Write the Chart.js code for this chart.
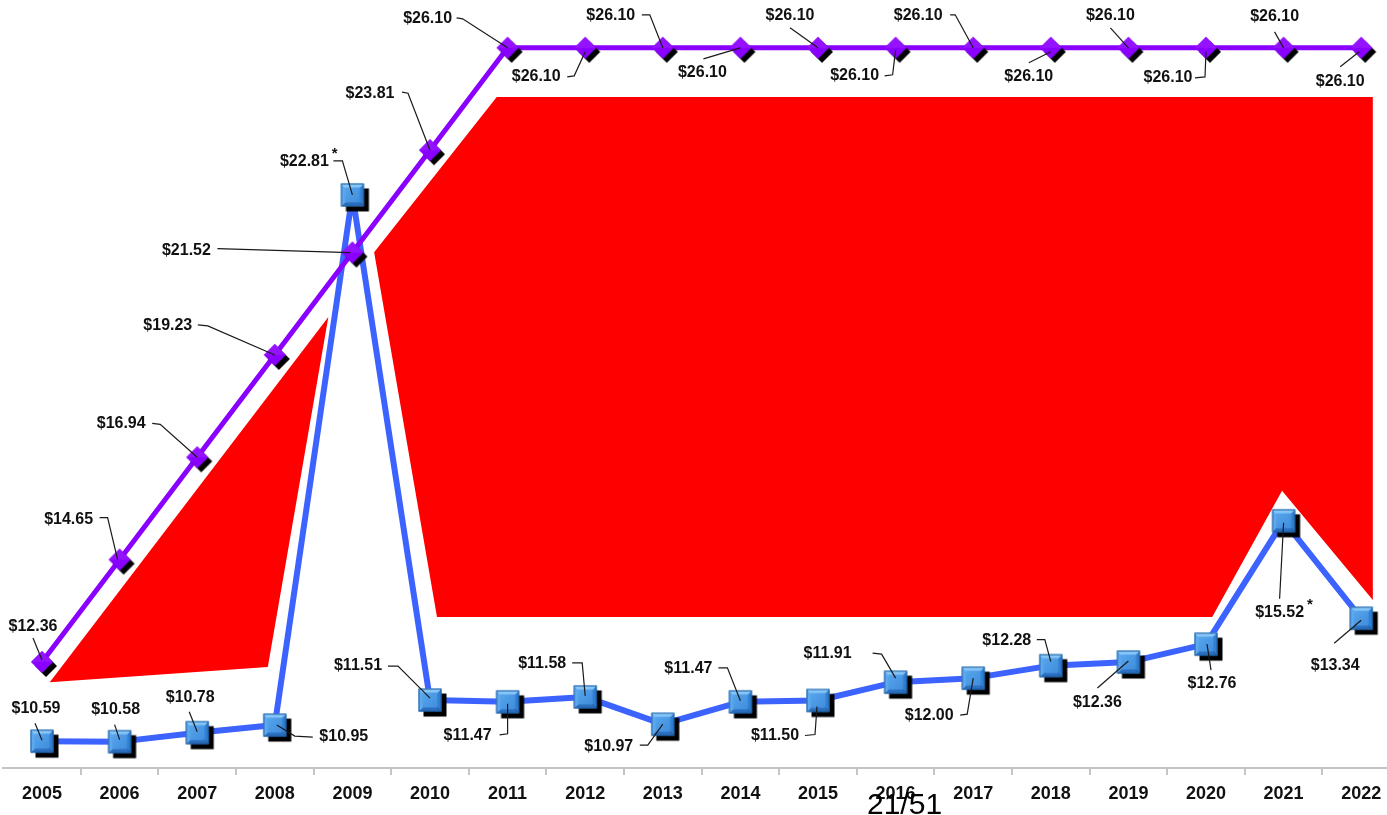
<!DOCTYPE html>
<html>
<head>
<meta charset="utf-8">
<script src="https://cdn.jsdelivr.net/npm/chart.js@4.4.1/dist/chart.umd.min.js"></script>
<style>
  html, body { margin: 0; padding: 0; background: #ffffff; overflow: hidden; }
  #wrap { position: relative; width: 1387px; height: 815px; overflow: hidden; }
  canvas { display: block; }
</style>
</head>
<body>
<div id="wrap"><canvas id="chart" width="1400" height="815"></canvas></div>
<script>
// ---- data ----
const years = ['2005','2006','2007','2008','2009','2010','2011','2012','2013',
               '2014','2015','2016','2017','2018','2019','2020','2021','2022'];
const capValues = [12.36, 14.65, 16.94, 19.23, 21.52, 23.81, 26.10, 26.10, 26.10,
                   26.10, 26.10, 26.10, 26.10, 26.10, 26.10, 26.10, 26.10, 26.10];
const rateValues = [10.59, 10.58, 10.78, 10.95, 22.81, 11.51, 11.47, 11.58, 10.97,
                    11.47, 11.50, 11.91, 12.00, 12.28, 12.36, 12.76, 15.52, 13.34];
const starredYears = ['2009', '2021'];
const pageLabel = '21/51';

// red panels, corners given as (year index, value)
const panelLeftX = [0.10, 3.69, 2.91];
const panelLeftY = [11.91, 20.08, 12.25];
const panelMainX = [4.28, 5.86, 17.15, 17.15, 15.98, 15.08, 5.09];
const panelMainY = [21.53, 25.00, 25.00, 13.75, 16.19, 13.37, 13.37];

// ---- label placement: text centre and leader path, relative to the marker (px) ----
const capLabelLayout = [
  {t: [-9, -35],   l: [[-9, -24], [0, -2]]},
  {t: [-51, -40],  l: [[-20, -42], [-12, -42], [-2, 0]]},
  {t: [-76, -34],  l: [[-45, -34], [-37, -33], [0, 0]]},
  {t: [-107, -29], l: [[-77, -30], [-67, -29], [0, 0]]},
  {t: [-166, -2],  l: [[-135, -4], [-2, 0]]},
  {t: [-60, -57],  l: [[-28, -58], [-22, -57], [0, 0]]},
  {t: [-80, -29],  l: [[-51, -30], [-45, -29], [0, 0]]},
  {t: [-49, 29],   l: [[-18, 29], [-11, 28], [0, 4]]},
  {t: [-52, -32],  l: [[-21, -33], [-13, -33], [0, 0]]},
  {t: [-38, 25],   l: [[-37, 11], [0, 0]]},
  {t: [-28, -32],  l: [[-28, -20], [0, 0]]},
  {t: [-41, 28],   l: [[-11, 28], [-3, 27], [0, 2]]},
  {t: [-55, -32],  l: [[-23, -33], [-18, -33], [0, 0]]},
  {t: [-22, 29],   l: [[-22, 15], [0, 4]]},
  {t: [-18, -32],  l: [[-18, -20], [0, 0]]},
  {t: [-38, 30],   l: [[-11, 30], [-1, 29], [0, 4]]},
  {t: [-9, -31],   l: [[-9, -16], [0, 0]]},
  {t: [-21, 34],   l: [[-21, 19], [-2, 4]]}
];
const rateLabelLayout = [
  {t: [-6, -33],  l: [[-7, -18], [0, -1]]},
  {t: [-4, -32],  l: [[-5, -17], [0, -2]]},
  {t: [-7, -35],  l: [[-8, -21], [0, -1]]},
  {t: [69, 12],   l: [[38, 12], [20, 11], [2, 0]]},
  {t: [-48, -33], l: [[-19, -34], [-10, -34], [0, 0]]},
  {t: [-72, -34], l: [[-42, -34], [-32, -34], [0, -2]]},
  {t: [-40, 34],  l: [[-8, 33], [0, 32], [0, 2]]},
  {t: [-43, -33], l: [[-13, -34], [-3, -34], [0, -1]]},
  {t: [-54, 22],  l: [[-23, 21], [-15, 21], [0, 0]]},
  {t: [-52, -33], l: [[-22, -34], [-13, -34], [0, -1]]},
  {t: [-43, 35],  l: [[-13, 35], [-3, 34], [-1, 6]]},
  {t: [-68, -29], l: [[-23, -29], [-14, -28], [0, -4]]},
  {t: [-44, 37],  l: [[-13, 37], [-6, 36], [0, 0]]},
  {t: [-44, -25], l: [[-14, -26], [-6, -26], [0, -4]]},
  {t: [-31, 41],  l: [[-31, 26], [0, -1]]},
  {t: [6, 39],    l: [[5, 26], [1, 0]]},
  {t: [-4, 92],   l: [[-4, 78], [0, 2]]},
  {t: [-26, 47],  l: [[-27, 25], [0, 2]]}
];

// ---- marker images ----
function poly(g, pts, color) {
  g.beginPath();
  g.moveTo(pts[0][0], pts[0][1]);
  for (let i = 1; i < pts.length; i++) g.lineTo(pts[i][0], pts[i][1]);
  g.closePath();
  g.fillStyle = color;
  g.fill();
}
function makeSquareMarker() {
  const c = document.createElement('canvas');
  c.width = 44; c.height = 44;
  const g = c.getContext('2d');
  const s = 23, h = s / 2, cx = 22, cy = 22;
  const x0 = cx - h, y0 = cy - h, x1 = cx + h, y1 = cy + h;
  g.fillStyle = '#000';
  g.fillRect(x0 + 5, y0 + 5, s, s);
  poly(g, [[x0, y0], [x1, y0], [cx, cy]], '#86c6f8');
  poly(g, [[x0, y0], [x0, y1], [cx, cy]], '#5ea9ee');
  poly(g, [[x1, y0], [x1, y1], [cx, cy]], '#2f7fd2');
  poly(g, [[x0, y1], [x1, y1], [cx, cy]], '#2a6ec0');
  const inset = 4;
  const grad = g.createLinearGradient(x0, y0, x1, y1);
  grad.addColorStop(0, '#5dacf1');
  grad.addColorStop(1, '#3a86d8');
  g.fillStyle = grad;
  g.fillRect(x0 + inset, y0 + inset, s - 2 * inset, s - 2 * inset);
  g.strokeStyle = '#1f5f9f';
  g.lineWidth = 1;
  g.strokeRect(x0 + 0.5, y0 + 0.5, s - 1, s - 1);
  return c;
}
function makeDiamondMarker() {
  const c = document.createElement('canvas');
  c.width = 44; c.height = 44;
  const g = c.getContext('2d');
  const r = 11, cx = 22, cy = 22, o = 4;
  poly(g, [[cx + o, cy - r + o], [cx + r + o, cy + o], [cx + o, cy + r + o], [cx - r + o, cy + o]], '#000');
  poly(g, [[cx, cy - r], [cx + r, cy], [cx, cy + r], [cx - r, cy]], '#8a00ff');
  poly(g, [[cx, cy - r], [cx + r, cy], [cx, cy], [cx - r, cy]], '#9412ff');
  return c;
}
const squareMarker = makeSquareMarker();
const diamondMarker = makeDiamondMarker();

// ---- value labels with leader lines ----
const LABEL_FONT = 'bold 16px "Liberation Sans", Arial, sans-serif';
const leaderLabels = {
  id: 'leaderLabels',
  afterDatasetsDraw(chart) {
    const ctx = chart.ctx;
    const drawSet = (dsIndex, values, layout) => {
      const meta = chart.getDatasetMeta(dsIndex);
      meta.data.forEach((pt, i) => {
        const L = layout[i];
        const x = pt.x, y = pt.y;
        ctx.save();
        ctx.strokeStyle = '#1a1a1a';
        ctx.lineWidth = 1.2;
        ctx.beginPath();
        L.l.forEach((p, k) => {
          if (k === 0) ctx.moveTo(x + p[0], y + p[1]);
          else ctx.lineTo(x + p[0], y + p[1]);
        });
        ctx.stroke();
        const text = '$' + values[i].toFixed(2);
        const tx = x + L.t[0], ty = y + L.t[1];
        ctx.font = LABEL_FONT;
        ctx.fillStyle = '#111111';
        ctx.textAlign = 'center';
        ctx.textBaseline = 'middle';
        ctx.fillText(text, tx, ty);
        if (dsIndex === 1 && starredYears.includes(years[i])) {
          const w = ctx.measureText(text).width;
          ctx.font = 'bold 15px "Liberation Sans", Arial, sans-serif';
          ctx.textAlign = 'left';
          ctx.fillText('*', tx + w / 2 + 3, ty - 8);
        }
        ctx.restore();
      });
    };
    drawSet(1, rateValues, rateLabelLayout);
    drawSet(0, capValues, capLabelLayout);
  },
  afterDraw(chart) {
    const ctx = chart.ctx;
    ctx.save();
    ctx.font = '30px "Liberation Sans", Arial, sans-serif';
    ctx.fillStyle = '#000';
    ctx.textAlign = 'left';
    ctx.textBaseline = 'alphabetic';
    ctx.fillText(pageLabel, 867, 814);
    ctx.restore();
  }
};

const zipPoints = (xs, ys) => xs.map((x, i) => ({x: x, y: ys[i]}));

new Chart(document.getElementById('chart'), {
  type: 'line',
  data: {
    labels: years,
    datasets: [
      {
        label: 'cap',
        data: capValues,
        xAxisID: 'x', yAxisID: 'y',
        borderColor: '#8a00ff',
        borderWidth: 5,
        borderJoinStyle: 'round',
        pointStyle: diamondMarker,
        pointRadius: 12,
        tension: 0,
        order: 1
      },
      {
        label: 'rate',
        data: rateValues,
        xAxisID: 'x', yAxisID: 'y',
        borderColor: '#3d63ff',
        borderWidth: 6,
        borderJoinStyle: 'round',
        pointStyle: squareMarker,
        pointRadius: 12,
        tension: 0,
        order: 2
      },
      {
        label: 'panel-left',
        data: zipPoints(panelLeftX, panelLeftY),
        xAxisID: 'x2', yAxisID: 'y',
        backgroundColor: '#ff0000',
        borderWidth: 0,
        pointRadius: 0,
        fill: 'shape',
        order: 5
      },
      {
        label: 'panel-main',
        data: zipPoints(panelMainX, panelMainY),
        xAxisID: 'x2', yAxisID: 'y',
        backgroundColor: '#ff0000',
        borderWidth: 0,
        pointRadius: 0,
        fill: 'shape',
        order: 5
      }
    ]
  },
  options: {
    responsive: false,
    animation: false,
    events: [],
    clip: false,
    layout: { autoPadding: false, padding: { left: 3.2, right: 0, top: 0, bottom: 0 } },
    plugins: { legend: { display: false }, tooltip: { enabled: false }, title: { display: false } },
    scales: {
      x: {
        type: 'category',
        offset: true,
        afterFit(scale) { scale.height = 47; },
        grid: {
          offset: true,
          drawOnChartArea: false,
          drawTicks: true,
          tickLength: 7,
          lineWidth: 2,
          color: (c) => (c.index === 0 ? 'rgba(0,0,0,0)' : '#c4c4c4')
        },
        border: { display: true, color: '#c4c4c4', width: 2 },
        ticks: {
          color: '#111111',
          font: { family: '"Liberation Sans", Arial, sans-serif', size: 18, weight: 'bold' },
          padding: 8,
          maxRotation: 0,
          autoSkip: false
        }
      },
      x2: {
        type: 'linear',
        display: false,
        min: -0.5,
        max: 17.5,
        offset: false
      },
      y: {
        type: 'linear',
        display: false,
        min: 9.99,
        max: 27.17
      }
    }
  },
  plugins: [leaderLabels]
});
</script>
</body>
</html>
